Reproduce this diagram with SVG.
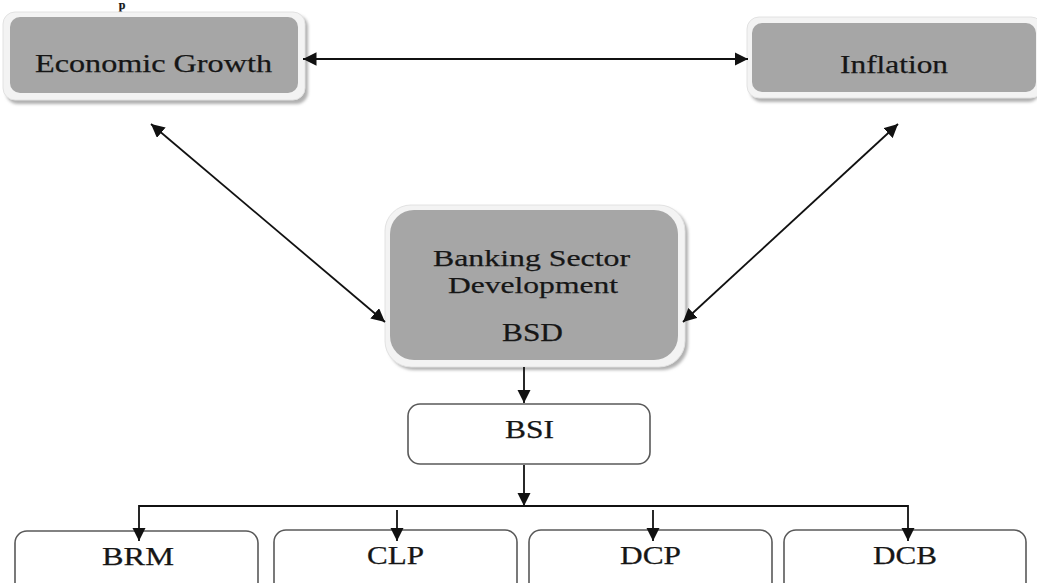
<svg xmlns="http://www.w3.org/2000/svg" width="1037" height="583" viewBox="0 0 1037 583">
<style>
  .t { font-family: "Liberation Serif", "Times New Roman", serif; font-size: 26px; fill: #161616; text-anchor: middle; stroke: #161616; stroke-width: 0.25; }
  .t24 { font-size: 24px; }
  .rim { fill: #f3f3f3; stroke: #e2e2e2; stroke-width: 1; }
  .gray { fill: #a6a6a6; }
  .shadow { fill: #b0b0b0; filter: url(#blur); }
  .wbox { fill: #ffffff; stroke: #595959; stroke-width: 1.6; }
  .conn { stroke: #111; stroke-width: 1.8; fill: none; }
</style>
<defs>
  <filter id="blur" x="-10%" y="-10%" width="120%" height="120%">
    <feGaussianBlur stdDeviation="1.5"/>
  </filter>
  <marker id="ah" viewBox="0 0 10 10" refX="10" refY="5" markerWidth="7.5" markerHeight="7.5" orient="auto-start-reverse" markerUnits="strokeWidth">
    <path d="M0,0 L10,5 L0,10 z" fill="#111"/>
  </marker>
</defs>

<text x="122" y="9" class="t" style="font-weight:bold; font-size:12px">p</text>

<g id="node-economic-growth">
  <rect class="shadow" x="6" y="15" width="302" height="89" rx="12"/>
  <rect class="rim" x="3" y="12" width="302" height="88" rx="12"/>
  <rect class="gray" x="10" y="17" width="288" height="76" rx="10"/>
  <text class="t" x="153.5" y="72" textLength="237" lengthAdjust="spacingAndGlyphs">Economic Growth</text>
</g>

<g id="node-inflation">
  <rect class="shadow" x="750" y="20" width="290" height="82" rx="12"/>
  <rect class="rim" x="747" y="17" width="296" height="81" rx="12"/>
  <rect class="gray" x="752" y="23" width="284" height="69" rx="10"/>
  <text class="t" x="894" y="73" textLength="108" lengthAdjust="spacingAndGlyphs">Inflation</text>
</g>

<g id="node-bsd">
  <rect class="shadow" x="388" y="208" width="300" height="162" rx="26"/>
  <rect class="rim" x="385" y="205" width="300" height="162" rx="26"/>
  <rect class="gray" x="390" y="210" width="288" height="150" rx="24"/>
  <text class="t t24" x="531.5" y="266" textLength="197" lengthAdjust="spacingAndGlyphs">Banking Sector</text>
  <text class="t t24" x="533" y="293" textLength="170" lengthAdjust="spacingAndGlyphs">Development</text>
  <text class="t" x="532.5" y="341" textLength="61" lengthAdjust="spacingAndGlyphs">BSD</text>
</g>

<g id="node-bsi">
  <rect class="wbox" x="408" y="404" width="242" height="60" rx="12"/>
  <text class="t" x="529.5" y="438" textLength="49" lengthAdjust="spacingAndGlyphs">BSI</text>
</g>

<g id="node-brm">
  <rect class="wbox" x="15" y="531" width="243" height="70" rx="12"/>
  <text class="t" x="138" y="565" textLength="72" lengthAdjust="spacingAndGlyphs">BRM</text>
</g>
<g id="node-clp">
  <rect class="wbox" x="274" y="530" width="243" height="70" rx="12"/>
  <text class="t" x="395.5" y="564" textLength="57" lengthAdjust="spacingAndGlyphs">CLP</text>
</g>
<g id="node-dcp">
  <rect class="wbox" x="529" y="530" width="243" height="70" rx="12"/>
  <text class="t" x="650.5" y="564" textLength="61" lengthAdjust="spacingAndGlyphs">DCP</text>
</g>
<g id="node-dcb">
  <rect class="wbox" x="784" y="530" width="242" height="70" rx="12"/>
  <text class="t" x="905" y="564" textLength="64" lengthAdjust="spacingAndGlyphs">DCB</text>
</g>

<g id="connectors">
  <line class="conn" x1="303" y1="59" x2="748" y2="59" marker-start="url(#ah)" marker-end="url(#ah)"/>
  <line class="conn" x1="151" y1="124" x2="385" y2="322" marker-start="url(#ah)" marker-end="url(#ah)"/>
  <line class="conn" x1="898" y1="124" x2="683" y2="322" marker-start="url(#ah)" marker-end="url(#ah)"/>
  <line class="conn" x1="524" y1="367" x2="524" y2="403" marker-end="url(#ah)"/>
  <line class="conn" x1="524" y1="465" x2="524" y2="506" marker-end="url(#ah)"/>
  <polyline class="conn" points="139,541 139,506 908,506 908,541" marker-start="url(#ah)" marker-end="url(#ah)"/>
  <line class="conn" x1="397" y1="510" x2="397" y2="541" marker-end="url(#ah)"/>
  <line class="conn" x1="653" y1="510" x2="653" y2="541" marker-end="url(#ah)"/>
</g>
</svg>
